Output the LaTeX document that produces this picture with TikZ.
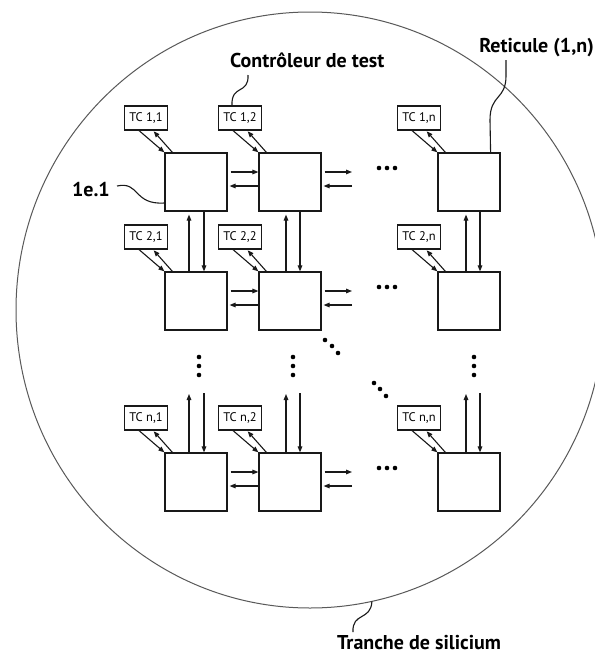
\documentclass[tikz,border=0pt]{standalone}
\usepackage{fontspec}
\setmainfont{PT Sans}
\usetikzlibrary{arrows.meta,shapes.geometric}
\tikzset{
  ret/.style={draw=black!90, line width=1.2pt, minimum width=62pt, minimum height=58pt, inner sep=0pt},
  tc/.style={draw=black!90, line width=1.1pt, minimum width=43pt, minimum height=24pt, inner sep=0pt, font=\fontsize{12.5}{13}\selectfont},
  arr/.style={line width=1.1pt, draw=black!90, -{Triangle[length=6pt,width=4.6pt]}},
  lbl/.style={font=\bfseries\fontsize{20}{22}\selectfont, inner sep=0pt},
  squig/.style={line width=1.1pt, draw=black!90},
  dotn/.style={circle, fill=black, inner sep=0pt, minimum size=4.6pt},
  wafer/.style={ellipse, draw=black!65, line width=1pt, inner sep=0pt, outer sep=0pt, minimum width=588pt, minimum height=596pt}
}
\begin{document}
\begin{tikzpicture}[x=1pt,y=-1pt]
\useasboundingbox (0,0) rectangle (595,654);
\fill[white] (0,0) rectangle (595,654);
% wafer
\node[wafer] (wafer) at (310,310) {};
% reticles and test controllers
\foreach \r/\y in {1/182,2/301,n/482}{
  \foreach \c/\x in {1/196,2/290,n/469}{
    \node[ret] (b\r\c) at (\x,\y) {};
    \node[tc] (tc\r\c) at (\x-50,\y-64) {TC \r,\c};
    \draw[arr] ([xshift=-7pt]tc\r\c.south) -- (b\r\c.north west);
    \draw[arr, shorten >=1pt] ([xshift=8pt]b\r\c.north west) -- ([xshift=7pt]tc\r\c.south);
  }
  % horizontal links
  \coordinate (er\r) at (352,\y-10);
  \coordinate (el\r) at (352,\y+4);
  \draw[arr, shorten <=3pt] ([yshift=10pt]b\r1.east) -- ([yshift=10pt]b\r2.west);
  \draw[arr, shorten >=2pt] ([yshift=-4pt]b\r2.west) -- ([yshift=-4pt]b\r1.east);
  \draw[arr, shorten <=3pt] ([yshift=10pt]b\r2.east) -- (er\r);
  \draw[arr, shorten >=2pt] (el\r) -- ([yshift=-4pt]b\r2.east);
  \node[dotn] (hd1\r) at (379,\y-14) {};
  \node[dotn] (hd2\r) at (387,\y-14) {};
  \node[dotn] (hd3\r) at (395,\y-14) {};
}
% vertical links
\foreach \c/\x/\u/\d/\t in {1/196/-7/8/3, 2/290/-4/10/3, n/469/-3/11/5}{
  \draw[arr, shorten >=3pt] ([xshift=\u pt]b2\c.north) -- ([xshift=\u pt]b1\c.south);
  \draw[arr] ([xshift=\d pt]b1\c.south) -- ([xshift=\d pt]b2\c.north);
  \coordinate (vu\c) at (\x+\u,394);
  \coordinate (vd\c) at (\x+\d,393);
  \draw[arr] ([xshift=\u pt]bn\c.north) -- (vu\c);
  \draw[arr] (vd\c) -- ([xshift=\d pt]bn\c.north);
  \node[dotn] (vda\c) at (\x+\t,357) {};
  \node[dotn] (vdb\c) at (\x+\t,366) {};
  \node[dotn] (vdc\c) at (\x+\t,375) {};
}
% diagonal dots
\node[dotn] (dd1) at (325,340) {};
\node[dotn] (dd2) at (332,346) {};
\node[dotn] (dd3) at (338,353) {};
\node[dotn] (dd4) at (374,383) {};
\node[dotn] (dd5) at (380,389) {};
\node[dotn] (dd6) at (386,396) {};
% labels
\node[lbl, anchor=base west] (lctrl) at (230,67) {Contrôleur de test};
\node[lbl, anchor=base east] (lret) at (594,52) {Reticule (1,n)};
\node[lbl, anchor=base east] (l1e) at (110,196) {1e.1};
\node[lbl, anchor=base west] (ltr) at (337,649) {Tranche de silicium};
% squiggles
\draw[squig] ([xshift=18pt,yshift=-8pt]lctrl.base west) .. controls (249,95) and (231,84) .. ([xshift=-8pt]tc12.north);
\draw[squig] ([xshift=-88pt,yshift=-8pt]lret.base east) -- (506,76) .. controls (506,100) and (490,94) .. (490,120) -- ([xshift=-10pt]b1n.north east);
\draw[squig] ([xshift=7pt,yshift=10pt]l1e.base east) .. controls (140,181) and (133,205) .. ([yshift=-21pt]b11.west);
\draw[squig] (wafer.-78.6) .. controls (371,621) and (352,612) .. ([xshift=16pt,yshift=17pt]ltr.base west);
\end{tikzpicture}
\end{document}
